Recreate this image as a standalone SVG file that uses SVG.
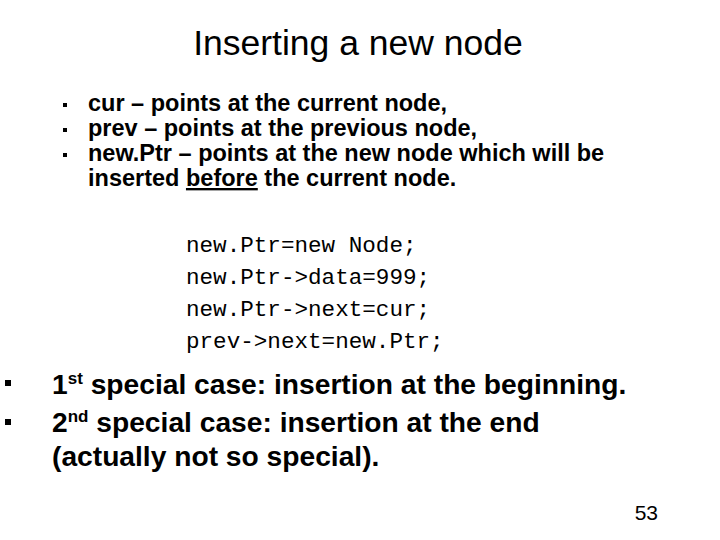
<svg xmlns="http://www.w3.org/2000/svg" width="720" height="540" viewBox="0 0 720 540">
<style>
.t{font-family:"Liberation Sans",Arial,sans-serif;fill:#000}
.b{font-weight:bold}
.m{font-family:"Liberation Mono","Courier New",monospace;font-size:22.6px;fill:#000}
</style>
<rect width="720" height="540" fill="#fff"/>
<text class="t" x="358" y="55" font-size="35.5" text-anchor="middle" fill="#000">Inserting a new node</text>
<g fill="#000">
<rect x="63" y="103" width="4" height="4"/>
<rect x="63" y="128" width="4" height="4"/>
<rect x="63" y="153" width="4" height="4"/>
</g>
<g class="t b" font-size="23.5">
<text x="88" y="111">cur – points at the current node,</text>
<text x="88" y="136">prev – points at the previous node,</text>
<text x="88" y="161">new.Ptr – points at the new node which will be</text>
<text x="88" y="186">inserted <tspan text-decoration="underline">before</tspan> the current node.</text>
</g>
<g class="m">
<text x="186" y="252">new.Ptr=new Node;</text>
<text x="186" y="284">new.Ptr-&gt;data=999;</text>
<text x="186" y="316">new.Ptr-&gt;next=cur;</text>
<text x="186" y="348">prev-&gt;next=new.Ptr;</text>
</g>
<g fill="#000">
<rect x="5" y="380" width="6" height="6"/>
<rect x="5" y="419" width="6" height="6"/>
</g>
<g class="t b" font-size="28.2">
<text x="52" y="394">1<tspan font-size="17" dy="-10">st</tspan><tspan dy="10"> special case: insertion at the beginning.</tspan></text>
<text x="52" y="432">2<tspan font-size="17" dy="-10">nd</tspan><tspan dy="10"> special case: insertion at the end</tspan></text>
<text x="52" y="466">(actually not so special).</text>
</g>
<text class="t" x="658" y="520" font-size="21" text-anchor="end">53</text>
</svg>
